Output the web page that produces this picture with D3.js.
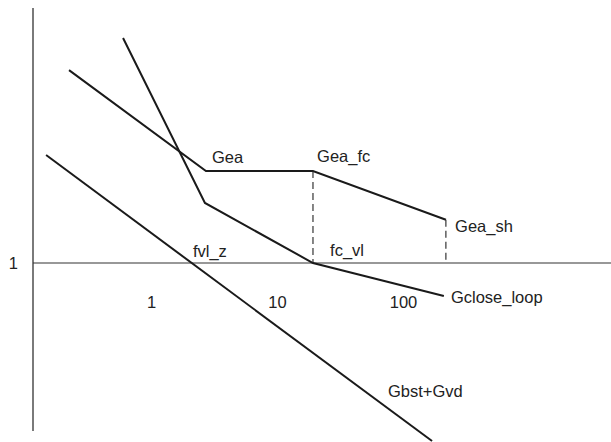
<!DOCTYPE html>
<html>
<head>
<meta charset="utf-8">
<script src="https://cdn.jsdelivr.net/npm/d3@7"></script>
<style>
  html, body { margin: 0; padding: 0; background: #fff; }
  svg text { font-family: "Liberation Sans", Arial, Helvetica, sans-serif; font-size: 16.5px; fill: #222; }
</style>
</head>
<body>
<svg id="chart" width="611" height="442"></svg>
<script>
// ---- data (frequency, gain) ----
const xTickValues = [1, 10, 100];
const xTickLabels = ["1", "10", "100"];
const yTickValues = [1];
const yTickLabels = ["1"];

const gbstGvd   = [[0.147, 14.9], [170, 0.0116]];
const gea       = [[0.2235, 125], [2.73, 10], [19.3, 10], [219, 2.95]];
const gcloseLoop = [[0.6, 279], [2.68, 4.49], [19.3, 1], [211, 0.438]];
const dropLines = [
  [[19.3, 10], [19.3, 1]],
  [[219, 2.95], [219, 1]]
];
const labelTexts = ["Gea", "Gea_fc", "Gea_sh", "fc_vl", "fvl_z", "Gclose_loop", "Gbst+Gvd"];
const labelX     = [3.05, 20.8, 259, 26.4, 2.15, 240, 76];
const labelY     = [12.2, 12.5, 2.17, 1.19, 1.16, 0.367, 0.035];

// ---- layout ----
const svg = d3.select("#chart");
const x = d3.scaleLog().domain([1, 100]).range([151, 403]);
const y = d3.scaleLog().domain([1, 10]).range([263, 171]);
const xMin = x.invert(33), xMax = x.invert(611);
const yTop = y.invert(8), yBottom = y.invert(431);

// vertical axis
svg.append("line")
  .attr("x1", x(xMin)).attr("x2", x(xMin))
  .attr("y1", y(yTop)).attr("y2", y(yBottom))
  .attr("stroke", "#7a7a7a").attr("stroke-width", 2);

// horizontal unity line
svg.append("line")
  .attr("x1", x(xMin)).attr("x2", x(xMax))
  .attr("y1", y(1)).attr("y2", y(1))
  .attr("stroke", "#333").attr("stroke-width", 1.2);

// x tick labels
const xAxis = d3.axisBottom(x).tickValues(xTickValues)
  .tickFormat((d, i) => xTickLabels[i]).tickSize(0).tickPadding(3);
const gx = svg.append("g").attr("transform", "translate(0,293.3)").call(xAxis);
gx.select(".domain").remove();
gx.selectAll("text").attr("font-size", null).attr("font-family", null).attr("fill", null);
gx.attr("font-size", null).attr("font-family", null);

// y tick label
const yAxis = d3.axisLeft(y).tickValues(yTickValues)
  .tickFormat((d, i) => yTickLabels[i]).tickSize(0).tickPadding(15);
const gy = svg.append("g").attr("transform", `translate(${x(xMin)},0)`).call(yAxis);
gy.select(".domain").remove();
gy.selectAll("text").attr("fill", null);
gy.attr("font-size", null).attr("font-family", null);

// curves
const line = d3.line().x(d => x(d[0])).y(d => y(d[1]));
[gbstGvd, gea, gcloseLoop].forEach(s => {
  svg.append("path").datum(s).attr("d", line)
    .attr("fill", "none").attr("stroke", "#1a1a1a")
    .attr("stroke-width", 2).attr("stroke-linejoin", "miter");
});

// dashed drop lines
dropLines.forEach(s => {
  svg.append("path").datum(s).attr("d", line)
    .attr("fill", "none").attr("stroke", "#222")
    .attr("stroke-width", 1.1).attr("stroke-dasharray", "7,4");
});

// labels
labelTexts.forEach((t, i) => {
  svg.append("text").attr("x", x(labelX[i])).attr("y", y(labelY[i])).text(t);
});
</script>
</body>
</html>
